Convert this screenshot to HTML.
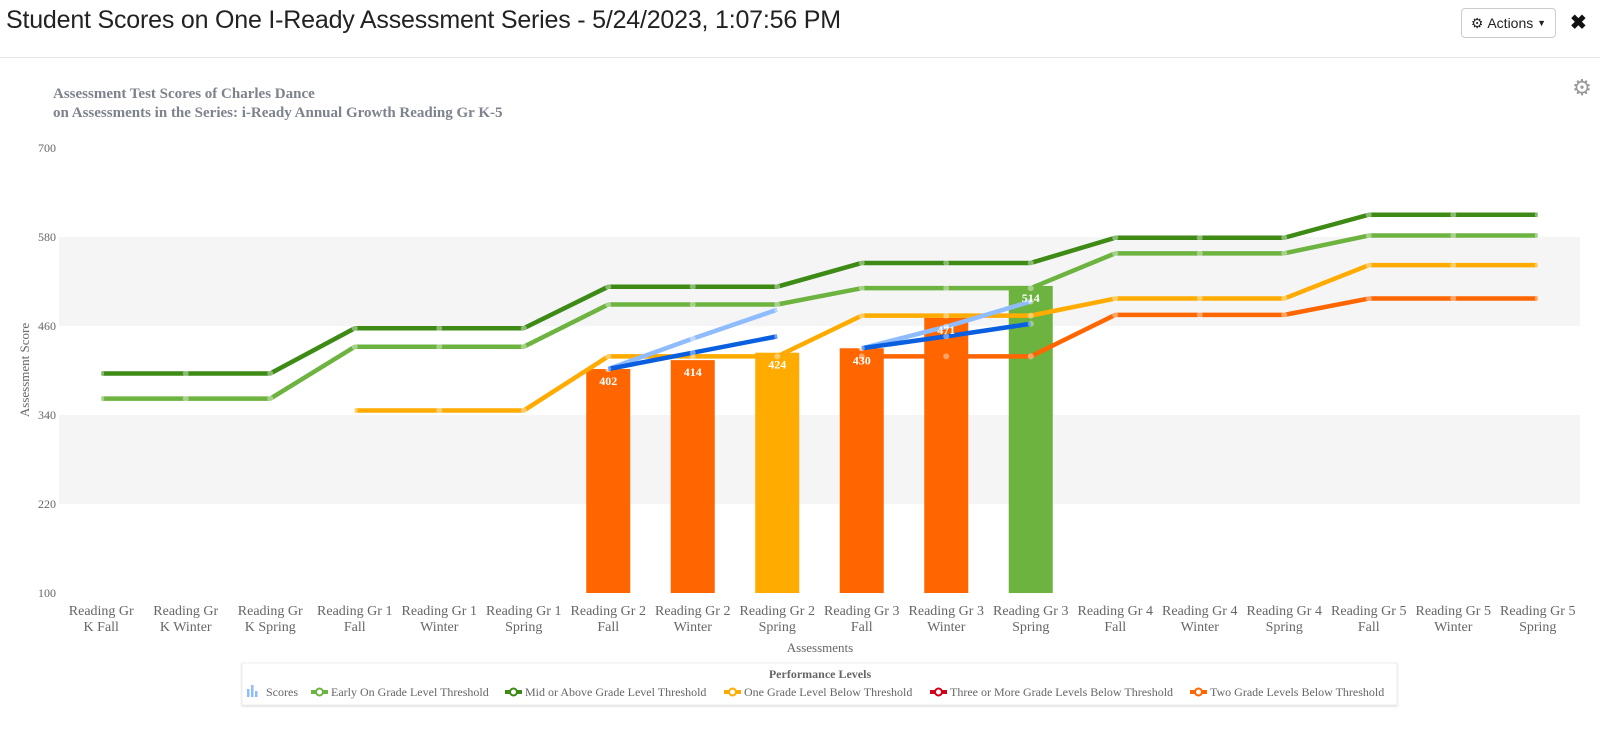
<!DOCTYPE html>
<html><head><meta charset="utf-8"><style>
body{margin:0;width:1600px;height:745px;background:#fff;overflow:hidden;font-family:"Liberation Sans",sans-serif;position:relative}
#hdr{position:absolute;left:6px;top:6px;font-size:25px;color:#222;font-weight:300;letter-spacing:-0.2px}
#hr{position:absolute;left:0;top:57px;width:1600px;height:1px;background:#e5e5e5}
#actions{position:absolute;left:1461px;top:8px;width:95px;height:30px;border:1px solid #ccc;border-radius:4px;font-size:14px;color:#222;display:flex;align-items:center;justify-content:center;box-sizing:border-box}
#close{position:absolute;left:1570px;top:10px;font-size:20px;font-weight:bold;color:#111}
svg{position:absolute;left:0;top:0}
</style></head><body>
<div id="hdr">Student Scores on One I-Ready Assessment Series - 5/24/2023, 1:07:56 PM</div>
<div id="hr"></div>
<div id="actions">⚙&nbsp;Actions&nbsp;<span style="font-size:9px">▼</span></div>
<div id="close">✖</div>
<svg id="chart" width="1600" height="745"></svg>
<script>
const categories=["Reading Gr|K Fall","Reading Gr|K Winter","Reading Gr|K Spring","Reading Gr 1|Fall","Reading Gr 1|Winter","Reading Gr 1|Spring","Reading Gr 2|Fall","Reading Gr 2|Winter","Reading Gr 2|Spring","Reading Gr 3|Fall","Reading Gr 3|Winter","Reading Gr 3|Spring","Reading Gr 4|Fall","Reading Gr 4|Winter","Reading Gr 4|Spring","Reading Gr 5|Fall","Reading Gr 5|Winter","Reading Gr 5|Spring"];
const yTicks=[100,220,340,460,580,700];
const scoreIdx=[6,7,8,9,10,11];
const scores=[402,414,424,430,471,514];
const scoreLevel=["two","two","one","two","two","early"];
const midThreshold=[396,396,396,457,457,457,513,513,513,545,545,545,579,579,579,610,610,610];
const earlyThreshold=[362,362,362,432,432,432,489,489,489,511,511,511,558,558,558,582,582,582];
const oneBelowThreshold=[null,null,null,346,346,346,419,419,419,474,474,474,497,497,497,542,542,542];
const twoBelowThreshold=[null,null,null,null,null,null,null,null,null,419,419,419,475,475,475,497,497,497];
const trendLight1=[402,443,482];const trendLight2=[430,459,493];
const trendDark1=[402,424,446];const trendDark2=[430,446,463];
const C={early:"#6db33f",mid:"#3d8a14",one:"#ffab00",three:"#d0021b",two:"#ff6600",light:"#8fbcff",dark:"#0a5fe0"};
const NS="http://www.w3.org/2000/svg";const svg=document.getElementById('chart');
const X0=59,BW=84.5,Y0=593,Y1=148;
const x=i=>X0+BW*(i+0.5);const y=v=>Y0-(v-100)*(Y0-Y1)/600;
function mk(t,a,p){const e=document.createElementNS(NS,t);for(const k in a)e.setAttribute(k,a[k]);(p||svg).appendChild(e);return e;}
function txt(s,a){const e=mk('text',a);e.textContent=s;return e;}
[[220,340],[460,580]].forEach(b=>{const r=mk('rect',{x:X0,y:y(b[1]),width:BW*18,height:y(b[0])-y(b[1]),fill:"#f5f5f5"});

});
let t=txt("Assessment Test Scores of Charles Dance",{x:53,y:98,"font-family":"Liberation Serif,serif","font-size":15,"font-weight":"bold",fill:"#7d828c"});

t=txt("on Assessments in the Series: i-Ready Annual Growth Reading Gr K-5",{x:53,y:117,"font-family":"Liberation Serif,serif","font-size":15,"font-weight":"bold",fill:"#7d828c"});

let g=txt("⚙",{x:1582,y:95,"font-size":22,fill:"#999","text-anchor":"middle"});

yTicks.forEach(v=>{const e=txt(v,{x:56,y:y(v)+4,"text-anchor":"end","font-family":"Liberation Serif,serif","font-size":12,fill:"#666"});
});
t=txt("Assessment Score",{x:0,y:0,transform:"translate(29,370) rotate(-90)","text-anchor":"middle","font-family":"Liberation Serif,serif","font-size":13,fill:"#666"});

categories.forEach((c,i)=>{const p=c.split('|');const e=txt('',{x:x(i),y:615,"text-anchor":"middle","font-family":"Liberation Serif,serif","font-size":14,fill:"#666"});

p.forEach((s,j)=>{const ts=mk('tspan',{x:x(i),dy:j?16:0},e);ts.textContent=s;});});
t=txt("Assessments",{x:820,y:652,"text-anchor":"middle","font-family":"Liberation Serif,serif","font-size":13,fill:"#666"});

scores.forEach((v,k)=>{const i=scoreIdx[k];const r=mk('rect',{x:x(i)-22,y:y(v),width:44,height:Y0-y(v),fill:C[scoreLevel[k]]});
});
function line(arr,start,col,name){let pts=[];arr.forEach((v,j)=>{if(v!=null)pts.push([x(start+j),y(v)]);});
const p=mk('polyline',{points:pts.map(q=>q.join(',')).join(' '),fill:"none",stroke:col,"stroke-width":4.5,"stroke-linejoin":"round"});

pts.forEach(q=>{const c=mk('circle',{cx:q[0],cy:q[1],r:3,fill:"rgba(255,255,255,0.4)"});
});}
line(twoBelowThreshold,0,C.two,'two-below-line');
line(oneBelowThreshold,0,C.one,'one-below-line');
line(earlyThreshold,0,C.early,'early-on-line');
line(midThreshold,0,C.mid,'mid-above-line');
line(trendLight1,6,C.light,'trend-light-1');line(trendLight2,9,C.light,'trend-light-2');
line(trendDark1,6,C.dark,'trend-dark-1');line(trendDark2,9,C.dark,'trend-dark-2');
scores.forEach((v,k)=>{const e=txt(v,{x:x(scoreIdx[k]),y:y(v)+16,"text-anchor":"middle","font-family":"Liberation Serif,serif","font-size":12,"font-weight":"bold",fill:"#fff"});
});
const lg=mk('rect',{x:242,y:663,width:1155,height:42,fill:"#fff",stroke:"#eee",style:"filter:drop-shadow(0 1px 1px rgba(0,0,0,0.15))"});

t=txt("Performance Levels",{x:820,y:678,"text-anchor":"middle","font-family":"Liberation Serif,serif","font-size":12,"font-weight":"bold",fill:"#666"});

[0,1,2].forEach(k=>{const r=mk('rect',{x:247+k*4,y:[689,685,691][k],width:2.5,height:[8,12,6][k],fill:C.light});
});
t=txt("Scores",{x:266,y:696,"font-family":"Liberation Serif,serif","font-size":12,fill:"#666"});

const leg=[[311,C.early,"Early On Grade Level Threshold"],[505,C.mid,"Mid or Above Grade Level Threshold"],[724,C.one,"One Grade Level Below Threshold"],[930,C.three,"Three or More Grade Levels Below Threshold"],[1190,C.two,"Two Grade Levels Below Threshold"]];
leg.forEach(l=>{const ln=mk('line',{x1:l[0],x2:l[0]+17,y1:692,y2:692,stroke:l[1],"stroke-width":4});

const c=mk('circle',{cx:l[0]+8.5,cy:692,r:3.5,fill:"#fff",stroke:l[1],"stroke-width":2});

const e=txt(l[2],{x:l[0]+20,y:696,"font-family":"Liberation Serif,serif","font-size":12,fill:"#666"});
});
</script>
</body></html>
